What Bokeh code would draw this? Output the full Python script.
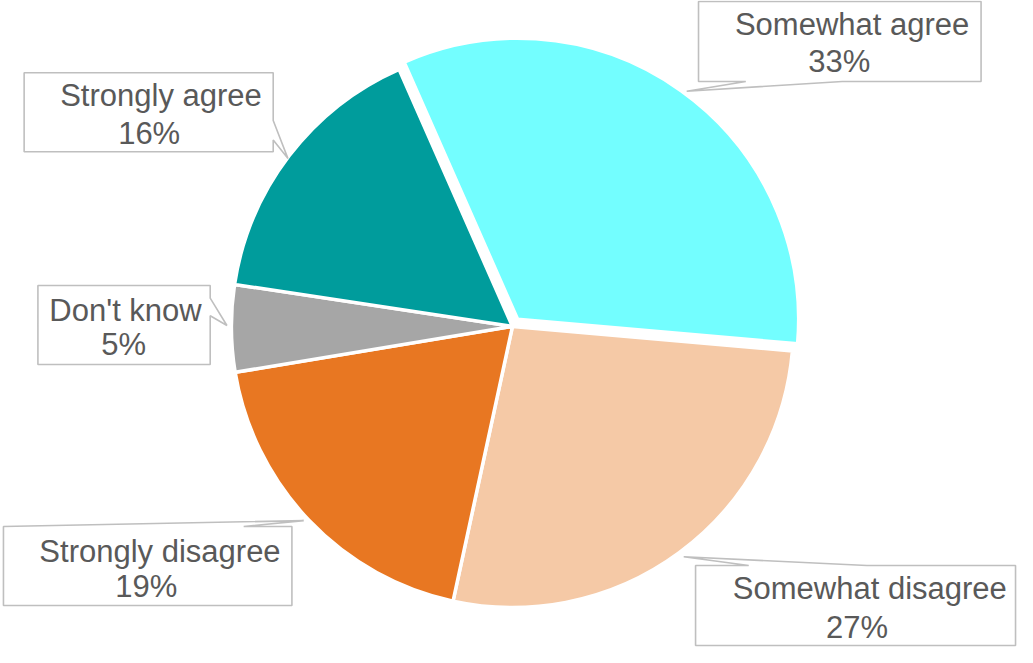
import math
from bokeh.plotting import figure
from bokeh.models import Range1d, ColumnDataSource
from bokeh.core.properties import value
from bokeh.embed import file_html
from bokeh.resources import INLINE

# ---- data ----
categories = ["Somewhat agree", "Somewhat disagree", "Strongly disagree", "Don't know", "Strongly agree"]
percents = [33, 27, 19, 5, 16]
colors = ["#73FEFF", "#F5C9A6", "#E87722", "#A6A6A6", "#009C9C"]
exploded = [True, False, False, False, False]

# ---- layout (reference pixel space, y measured downward) ----
W_REF, H_REF = 1033, 663
cx, cy, R = 520, 334, 288
start_deg = -23.8          # clockwise from 12 o'clock
explode_px = 9
text_shift = 10            # baseline correction for the svg text renderer

def Y(y):
    return H_REF - y

# callout outlines (box + pointer), in reference pixel coordinates
callouts = {
    "Somewhat agree": [(709, 1), (996, 1), (996, 83), (855, 83), (697, 93), (757, 83), (709, 83)],
    "Somewhat disagree": [(706, 579), (760, 579), (694, 570), (880, 579), (1031, 579), (1031, 661), (706, 661)],
    "Strongly disagree": [(3, 539), (308, 533), (247, 539), (296, 539), (296, 620), (3, 620)],
    "Don't know": [(38, 292), (213, 292), (213, 305), (230, 333), (213, 323), (213, 373), (38, 373)],
    "Strongly agree": [(24, 74), (277, 74), (277, 123), (292, 162), (277, 143), (277, 155), (24, 155)],
}
# text anchors: (line1 x, line1 baseline, line2 x, line2 baseline)
text_pos = {
    "Somewhat agree": (865, 35, 852, 73),
    "Somewhat disagree": (883, 613, 870, 652),
    "Strongly disagree": (162, 575, 148, 611),
    "Don't know": (127, 328, 125, 363),
    "Strongly agree": (163, 107, 151, 146),
}

W_PX, H_PX = 1017, 647
sx = W_PX / W_REF
sy = H_PX / H_REF

p = figure(width=W_PX, height=H_PX, output_backend="svg", toolbar_location=None,
           x_range=Range1d(0, W_REF), y_range=Range1d(0, H_REF),
           min_border=0, outline_line_color=None)
p.axis.visible = False
p.grid.visible = False
p.background_fill_color = "white"
p.border_fill_color = "white"

# ---- pie ----
total = sum(percents)
wx, wy, wa0, wa1, wc = [], [], [], [], []
acc = start_deg
for v, c, ex in zip(percents, colors, exploded):
    t0 = acc
    t1 = acc + v / total * 360.0
    acc = t1
    mid = math.radians((t0 + t1) / 2)
    ox = explode_px * math.sin(mid) if ex else 0.0
    oy = explode_px * math.cos(mid) if ex else 0.0
    wx.append(cx + ox)
    wy.append(Y(cy) + oy)
    # clockwise-from-top degrees -> math radians
    wa0.append(math.radians(90 - t1))
    wa1.append(math.radians(90 - t0))
    wc.append(c)

src = ColumnDataSource(dict(x=wx, y=wy, a0=wa0, a1=wa1, color=wc, cat=categories))
p.wedge(x="x", y="y", radius=R * sy / sx, start_angle="a0", end_angle="a1", fill_color="color",
        line_color="white", line_width=3.5, source=src)

# ---- callouts ----
xs, ys = [], []
for cat in categories:
    pts = callouts[cat]
    xs.append([q[0] for q in pts])
    ys.append([Y(q[1]) for q in pts])
p.patches(xs, ys, fill_color="white", line_color="#BFBFBF", line_width=1.6)

# ---- label text ----
tx, ty, tt = [], [], []
for cat, v in zip(categories, percents):
    a, b, c2, d = text_pos[cat]
    tx += [a, c2]
    ty += [Y(b - text_shift), Y(d - text_shift)]
    tt += [cat, f"{v}%"]
p.text(x=tx, y=ty, text=tt, text_align="center", text_baseline="alphabetic",
       text_font=value("Liberation Sans"), text_font_size="31px", text_color="#595959")

open("out.html", "w").write(file_html(p, INLINE))
